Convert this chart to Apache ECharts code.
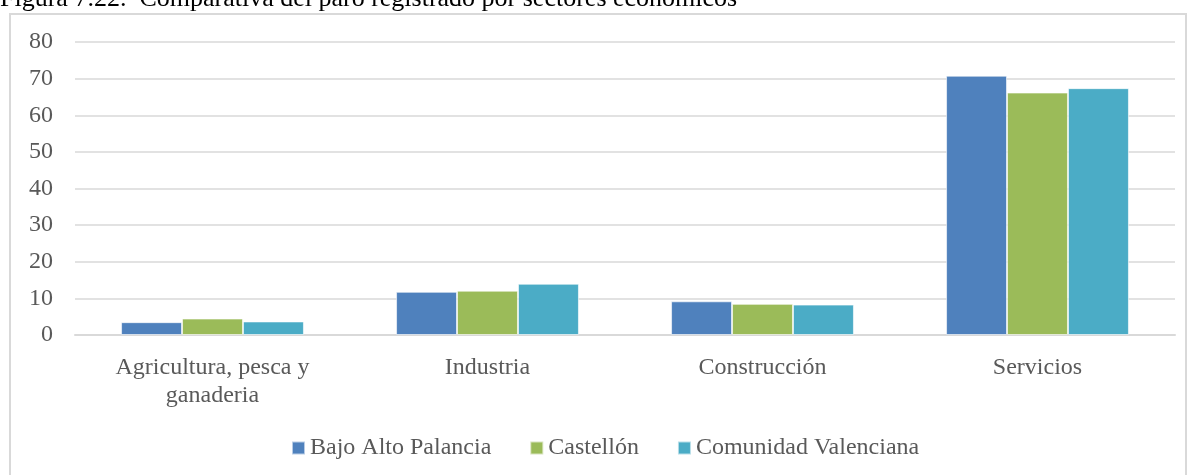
<!DOCTYPE html>
<html><head><meta charset="utf-8">
<script src="https://cdn.jsdelivr.net/npm/echarts@6/dist/echarts.min.js"></script>
<style>html,body{margin:0;padding:0;background:#fff}#c{width:1192px;height:475px}</style>
</head><body><div id="c"></div>
<script>
const categories = ['Agricultura, pesca y\nganaderia', 'Industria', 'Construcción', 'Servicios'];
const seriesNames = ['Bajo Alto Palancia', 'Castellón', 'Comunidad Valenciana'];
const bajoAltoPalancia = [3.5, 11.8, 9.2, 70.8];
const castellon = [4.5, 12.1, 8.5, 66.2];
const comunidadValenciana = [3.7, 14.0, 8.3, 67.4];
const colors = ['#4F81BD', '#9BBB59', '#4BACC6'];
const yTicks = {min: 0, max: 80, interval: 10};
const titleText = 'Figura 7.22.  Comparativa del paro registrado por sectores económicos';

const font = '"Liberation Serif", "DejaVu Serif", serif';
const chart = echarts.init(document.getElementById('c'), null, {renderer: 'canvas'});
const data = [bajoAltoPalancia, castellon, comunidadValenciana];
chart.setOption({
  animation: false,
  backgroundColor: '#fff',
  graphic: [
    {type: 'rect', shape: {x: 10, y: 14, width: 1176, height: 480}, style: {fill: 'none', stroke: '#d9d9d9', lineWidth: 2}, z: 0},
    {type: 'text', x: 0, y: -14, z: 10, style: {text: titleText, font: '26px "Liberation Serif", serif', fill: '#000', verticalAlign: 'top'}}
  ],
  grid: {left: 75, right: 17, top: 42, bottom: 140, containLabel: false},
  legend: {
    top: 431, left: 286, itemWidth: 13, itemHeight: 13, itemGap: 38,
    icon: 'rect',
    textStyle: {fontFamily: font, fontSize: 24, color: '#595959'},
    data: seriesNames
  },
  xAxis: {
    type: 'category', data: categories,
    axisLine: {show: true, lineStyle: {color: '#d9d9d9', width: 2}},
    axisTick: {show: false},
    axisLabel: {fontFamily: font, fontSize: 24, color: '#595959', margin: 19, lineHeight: 28, interval: 0}
  },
  yAxis: {
    type: 'value', min: yTicks.min, max: yTicks.max, interval: yTicks.interval,
    axisLine: {show: false}, axisTick: {show: false},
    splitLine: {lineStyle: {color: '#d9d9d9', width: 1.5}},
    axisLabel: {fontFamily: font, fontSize: 24, color: '#595959', margin: 22}
  },
  series: seriesNames.map((n, i) => ({
    name: n, type: 'bar', data: data[i],
    barGap: '0%', barCategoryGap: '33.5%',
    itemStyle: {color: colors[i], borderColor: 'rgba(255,255,255,0.6)', borderWidth: 1}
  }))
});
</script></body></html>
